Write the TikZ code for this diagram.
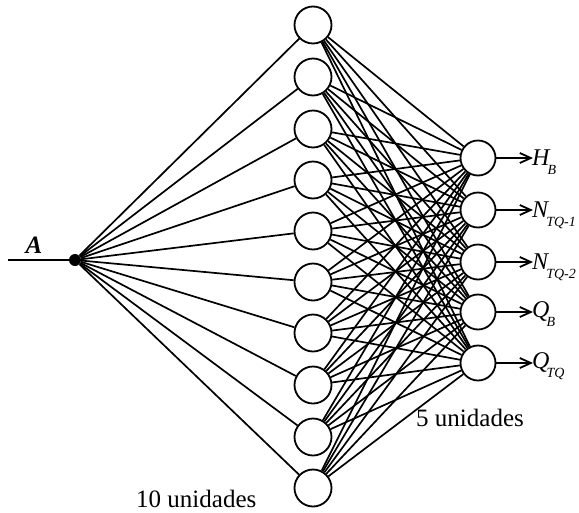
\documentclass[tikz,border=0pt]{standalone}
\usepackage{fontspec}
\setmainfont{Liberation Serif}
\usetikzlibrary{arrows.meta}

\newcommand{\outlab}[2]{\fontsize{24}{28}\selectfont\textit{#1}\kern-3pt\raisebox{-9pt}{\fontsize{14}{14}\selectfont\textit{#2}}}

\tikzset{
  neuron/.style={draw=black, circle, line width=1.8pt, minimum size=37pt, inner sep=0pt, fill=white},
  outneuron/.style={neuron, minimum size=35pt},
  link/.style={black, line width=1.7pt},
  outlink/.style={black, line width=1.8pt, -{Straight Barb[length=11pt,width=10pt,line width=1.8pt]}}
}

\begin{document}
\begin{tikzpicture}[x=1pt, y=-1pt]
\useasboundingbox (0,0) rectangle (579,512);
\fontsize{25}{29}\selectfont
% input
\node[circle, fill=black, minimum size=12pt, inner sep=0pt] (in) at (75,260) {};
\coordinate (start) at (8,260);
\draw [link] (start) -- (in);
\node (A) at (34,245) {\textbf{\textit{A}}};
% hidden layer
\foreach \i/\y in {1/25, 2/77, 3/129, 4/180, 5/231, 6/282, 7/333, 8/385, 9/437, 10/488}
  \node[neuron] (h\i) at (313,\y) {};
% output layer
\foreach \j/\y in {1/158, 2/210, 3/262, 4/312, 5/363}
  \node[outneuron] (o\j) at (478,\y) {};
% connections
\foreach \i in {1,...,10} {
  \draw [link] (in) -- (h\i);
  \foreach \j in {1,...,5}
    \draw [link] (h\i) -- (o\j);
}
% outputs
\foreach \j/\y in {1/158, 2/210, 3/262, 4/312, 5/363}
  \coordinate (t\j) at (533,\y);
\foreach \j in {1,...,5}
  \draw [outlink] (o\j) -- (t\j);
\node[anchor=base west, inner sep=0pt] (l1) at (532,165) {\outlab{H}{B}};
\node[anchor=base west, inner sep=0pt] (l2) at (532,217) {\outlab{N}{TQ-1}};
\node[anchor=base west, inner sep=0pt] (l3) at (532,269) {\outlab{N}{TQ-2}};
\node[anchor=base west, inner sep=0pt] (l4) at (532,317) {\outlab{Q}{B}};
\node[anchor=base west, inner sep=0pt] (l5) at (532,368) {\outlab{Q}{TQ}};
% layer sizes
\node[anchor=base west, inner sep=0pt] (n10) at (136,507) {10 unidades};
\node[anchor=base west, inner sep=0pt] (n5) at (416,426) {5 unidades};
\end{tikzpicture}
\end{document}
